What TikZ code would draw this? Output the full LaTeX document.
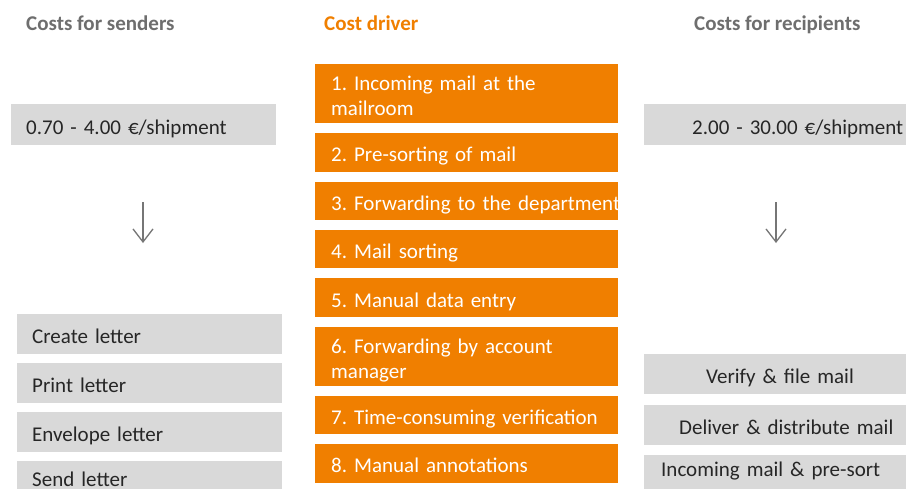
\documentclass[tikz,border=0pt]{standalone}
\usepackage{fontspec}
\setmainfont{Carlito}
\usepackage{tikz}
\usetikzlibrary{arrows.meta,positioning}
\definecolor{drvorange}{HTML}{F07F00}
\definecolor{boxgray}{HTML}{D9D9D9}
\definecolor{headgray}{HTML}{6E6E6E}
\definecolor{txtgray}{HTML}{262626}
\definecolor{arrgray}{HTML}{767676}
\frenchspacing

\begin{document}
\begin{tikzpicture}[x=1pt, y=-1pt, node distance=9.5pt, every node/.style={font=\fontsize{21}{25}\selectfont, inner sep=0pt}, head/.style={font=\fontsize{21}{25}\selectfont\bfseries, text=headgray, anchor=base west}, box/.style={fill=boxgray, text=txtgray, align=left, text width=265pt, text height=22pt, text depth=3pt, minimum height=39.5pt, execute at begin node={\leftskip=15pt\rightskip=-20pt plus 1fil\hyphenpenalty=10000}}, drv/.style={box, fill=drvorange, text=white, text width=303pt, minimum height=38.5pt, execute at begin node={\leftskip=16pt}}, two/.style={text depth=28pt, minimum height=59pt}, arr/.style={-{Straight Barb[length=13pt, width=20pt]}, line width=1.3pt, draw=arrgray}]
\path[use as bounding box, fill=white] (0,0) rectangle (906,488);
\clip (0,0) rectangle (906,488);
% column heads
\node[head] (hs) at (26,30) {Costs for senders};
\node[head, text=drvorange] (hd) at (324,30) {Cost driver};
\node[head] (hr) at (694,30) {Costs for recipients};
% senders
\node[box, anchor=north west, minimum height=41pt] (sp) at (11,104) {0.70 - 4.00 €/shipment};
\coordinate (sa1) at (143,202);
\coordinate (sa2) at (143,243);
\draw[arr] (sa1) -- (sa2);
\node[box, anchor=north west] (s1) at (17,314) {Create letter};
\node[box, below=9pt of s1] (s2) {Print letter};
\node[box, below=9pt of s2] (s3) {Envelope letter};
\node[box, below=9pt of s3, minimum height=29pt, text depth=0pt] (s4) {Send letter};
% cost drivers
\node[drv, two, anchor=north west] (d1) at (315,64) {1. Incoming mail at the\\mailroom};
\node[drv, below=of d1] (d2) {2. Pre-sorting of mail};
\node[drv, below=of d2] (d3) {3. Forwarding to the department};
\node[drv, below=of d3] (d4) {4. Mail sorting};
\node[drv, below=of d4] (d5) {5. Manual data entry};
\node[drv, two, below=of d5] (d6) {6. Forwarding by account\\manager};
\node[drv, below=of d6] (d7) {7. Time-consuming verification};
\node[drv, below=of d7] (d8) {8. Manual annotations};
% recipients
\node[box, anchor=north west, minimum height=41pt] (rp) at (644,104) {\hspace*{33pt}2.00 - 30.00 €/shipment};
\coordinate (ra1) at (776,202);
\coordinate (ra2) at (776,243);
\draw[arr] (ra1) -- (ra2);
\node[box, anchor=north west, minimum height=40pt] (r1) at (644,354) {\hspace*{47pt}Verify \& file mail};
\node[box, below=10pt of r1, minimum height=40pt] (r2) {\hspace*{20pt}Deliver \& distribute mail};
\node[box, below=10pt of r2, minimum height=40pt, text height=15pt, text depth=13pt] (r3) {\hspace*{2pt}Incoming mail \& pre-sort};
\end{tikzpicture}
\end{document}
